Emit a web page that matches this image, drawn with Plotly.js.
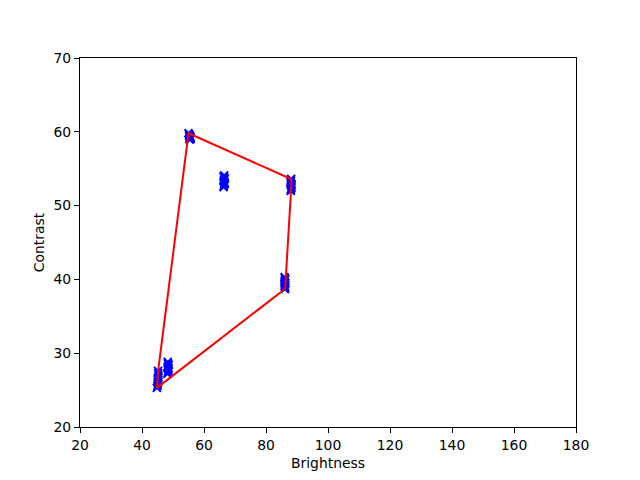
<!DOCTYPE html>
<html>
<head>
<meta charset="utf-8">
<script src="https://cdn.plot.ly/plotly-3.0.1.min.js"></script>
<style>html,body{margin:0;padding:0;background:#fff;}#chart{width:640px;height:480px;}</style>
</head>
<body>
<div id="chart"></div>
<script>
// Brightness / contrast samples (several clusters)
const brightness = [
  55.3, 55.6, 55.2, 55.0, 55.7, 55.4, 55.5, 55.3, 55.6, 55.4,
  66.3, 66.6, 66.4, 66.7, 66.5, 66.4, 66.6, 66.5, 66.3, 66.7,
  88.0, 88.2, 88.1, 87.9, 88.1, 88.0, 88.2, 88.1, 88.0, 88.2,
  86.1, 86.0, 86.2, 86.1, 86.0, 86.2, 86.1, 86.0, 86.2, 86.1,
  44.8, 45.1, 45.2, 45.3, 45.2, 45.0, 45.1, 45.3, 45.2, 45.1,
  48.2, 48.5, 48.4, 48.6, 48.3, 48.4, 48.5, 48.3, 48.4, 48.5
];
const contrast = [
  59.0, 59.3, 59.5, 59.8, 59.1, 59.2, 59.4, 59.6, 59.0, 59.3,
  52.5, 52.9, 53.3, 53.7, 54.1, 52.7, 53.1, 53.5, 53.9, 53.0,
  52.0, 52.4, 52.8, 53.2, 53.6, 52.2, 52.6, 53.0, 53.4, 52.9,
  38.7, 39.1, 39.5, 39.9, 40.3, 38.9, 39.3, 39.7, 40.1, 39.5,
  25.3, 25.9, 26.4, 27.0, 27.6, 25.6, 26.1, 26.7, 27.3, 26.5,
  27.2, 27.6, 28.0, 28.4, 28.8, 27.4, 27.8, 28.2, 28.6, 28.0
];
const xTicks = [20, 40, 60, 80, 100, 120, 140, 160, 180];
const yTicks = [20, 30, 40, 50, 60, 70];

// Convex hull (monotone chain) of the samples
function convexHull(xs, ys) {
  const pts = xs.map((x, i) => [x, ys[i]]).sort((a, b) => a[0] - b[0] || a[1] - b[1]);
  const cross = (o, a, b) => (a[0]-o[0])*(b[1]-o[1]) - (a[1]-o[1])*(b[0]-o[0]);
  const lower = [], upper = [];
  for (const p of pts) {
    while (lower.length >= 2 && cross(lower[lower.length-2], lower[lower.length-1], p) <= 0) lower.pop();
    lower.push(p);
  }
  for (let i = pts.length - 1; i >= 0; i--) {
    const p = pts[i];
    while (upper.length >= 2 && cross(upper[upper.length-2], upper[upper.length-1], p) <= 0) upper.pop();
    upper.push(p);
  }
  upper.pop(); lower.pop();
  const hull = lower.concat(upper);
  hull.push(hull[0]);
  return hull;
}
const hull = convexHull(brightness, contrast);

const font = {family: 'DejaVu Sans, sans-serif', size: 13.9, color: '#000'};
const traces = [
  {
    x: brightness, y: contrast, type: 'scatter', mode: 'markers',
    marker: {symbol: 'x-thin', size: 8, color: 'blue', line: {color: 'blue', width: 2}},
    hoverinfo: 'skip', showlegend: false
  },
  {
    x: hull.map(p => p[0]), y: hull.map(p => p[1]), type: 'scatter', mode: 'lines',
    line: {color: 'red', width: 2}, hoverinfo: 'skip', showlegend: false
  }
];
const axisCommon = {
  showgrid: false, zeroline: false, showline: true, mirror: true,
  linecolor: '#000', linewidth: 1, ticks: 'outside', ticklen: 5, tickwidth: 1,
  tickcolor: '#000', tickfont: font
};
const layout = {
  width: 640, height: 480,
  margin: {l: 80, r: 64, t: 58, b: 53},
  paper_bgcolor: '#fff', plot_bgcolor: '#fff', font: font,
  xaxis: Object.assign({}, axisCommon, {
    range: [20, 180], tickvals: xTicks, ticktext: xTicks.map(String),
    title: {text: 'Brightness', font: font, standoff: 6}
  }),
  yaxis: Object.assign({}, axisCommon, {
    range: [20, 70], tickvals: yTicks, ticktext: yTicks.map(String),
    title: {text: 'Contrast', font: font, standoff: 5}
  }),
  showlegend: false
};
Plotly.newPlot('chart', traces, layout, {staticPlot: true, displayModeBar: false});
</script>
</body>
</html>
